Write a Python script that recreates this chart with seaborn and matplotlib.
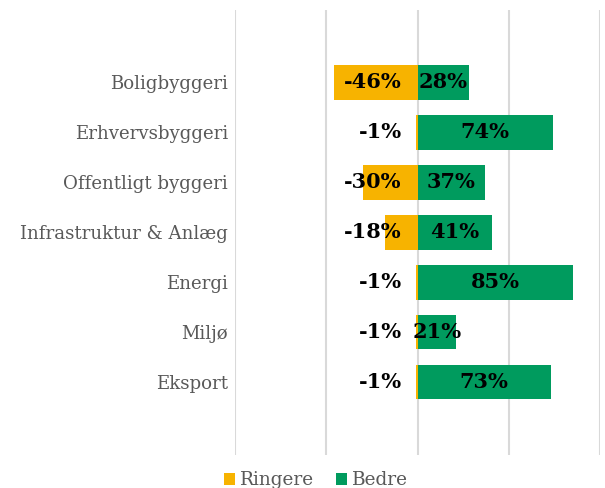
import matplotlib
matplotlib.use("Agg")
import matplotlib.pyplot as plt
import seaborn as sns
import pandas as pd

categories = ["Boligbyggeri", "Erhvervsbyggeri", "Offentligt byggeri",
              "Infrastruktur & Anlæg", "Energi", "Miljø", "Eksport"]
ringere = [-46, -1, -30, -18, -1, -1, -1]
bedre = [28, 74, 37, 41, 85, 21, 73]
series_names = ["Ringere", "Bedre"]
colors = {"Ringere": "#F7B300", "Bedre": "#009B5E"}

sns.set_theme(style="white")
plt.rcParams['font.family'] = ['DejaVu Serif']

df = pd.DataFrame({
    "Kategori": categories * 2,
    "Værdi": ringere + bedre,
    "Serie": [series_names[0]] * len(categories) + [series_names[1]] * len(categories),
})

fig = plt.figure(figsize=(6.05, 4.88), dpi=100)
ax = fig.add_axes([235/605, 1 - 455/488, (600-235)/605, (455-10)/488])

for name in series_names:
    sub = df[df["Serie"] == name]
    sns.barplot(data=sub, x="Værdi", y="Kategori", orient="h", color=colors[name],
                width=0.7, ax=ax, order=categories, label=name, saturation=1,
                edgecolor="none", linewidth=0)

ax.set_xlim(-100, 100)
ax.set_ylim(len(categories) + 0.46, -1.44)
ax.set_xticks([-100, -50, 0, 50, 100])
ax.xaxis.grid(True, color="#D9D9D9", linewidth=1.5)
ax.set_axisbelow(True)
ax.tick_params(axis="x", labelbottom=False, length=0)
ax.tick_params(axis="y", length=0, labelsize=13.1, labelcolor="#595959", pad=5)
ax.set_xlabel("")
ax.set_ylabel("")
for s in ax.spines.values():
    s.set_visible(False)

for i, (r, b) in enumerate(zip(ringere, bedre)):
    ax.text(-8.7, i, f"{r}%", ha="right", va="center", fontsize=15,
            fontweight="bold", color="black")
    ax.text(b / 2, i, f"{b}%", ha="center", va="center", fontsize=15,
            fontweight="bold", color="black")

ax.legend(loc="lower center", bbox_to_anchor=(0.222, -0.094), ncol=2, frameon=False,
          fontsize=13.3, labelcolor="#595959", handlelength=0.6, handleheight=0.6,
          handletextpad=0.25, columnspacing=1.2, borderaxespad=0)

fig.savefig("out.png", dpi=100)
